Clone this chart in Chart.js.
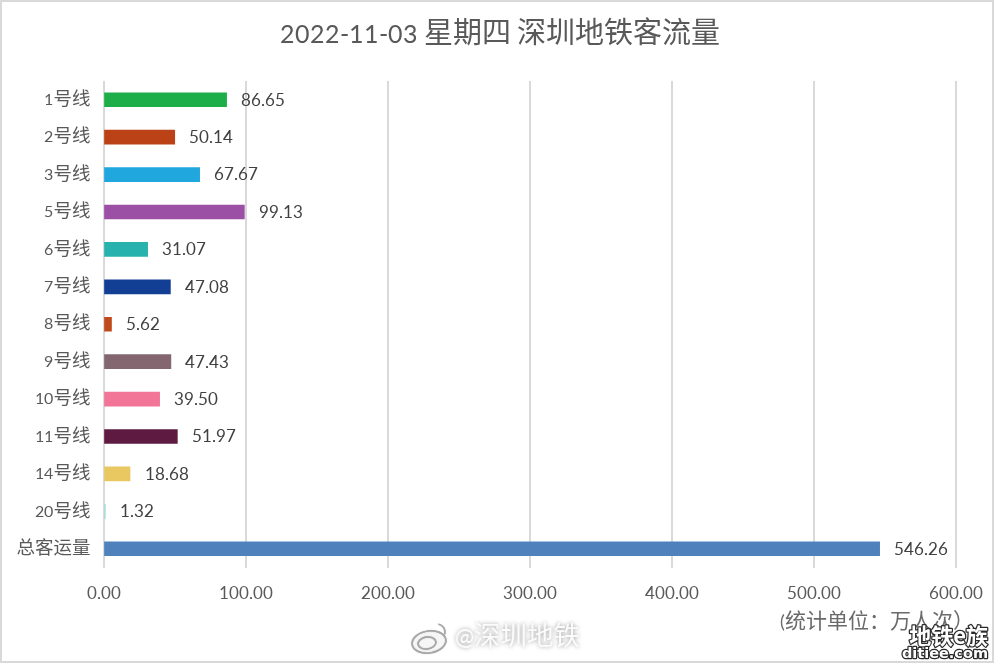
<!DOCTYPE html>
<html lang="zh">
<head>
<meta charset="utf-8">
<script src="https://cdn.jsdelivr.net/npm/chart.js@4"></script>
<style>
@font-face{font-family:"LatinMix";src:local("Lato"),local("Lato Regular");size-adjust:87%;unicode-range:U+0020-007E}
html,body{margin:0;padding:0;background:#fff}
canvas{display:block}
</style>
</head>
<body>
<canvas id="c" width="994" height="663"></canvas>
<script>
const chartTitle = "2022-11-03 星期四 深圳地铁客流量";
const categories = ["1号线","2号线","3号线","5号线","6号线","7号线","8号线","9号线","10号线","11号线","14号线","20号线","总客运量"];
const ridership = [86.65,50.14,67.67,99.13,31.07,47.08,5.62,47.43,39.50,51.97,18.68,1.32,546.26];
const barColors = ["#1dae4a","#bb4216","#1fa7de","#9b4fa5","#27b2ae","#123f94","#bf4a1c","#83666f","#f27497","#5e1a41","#e9c862","#a8dcd6","#4f81bd"];
const unitNote = "(统计单位：万人次）";
const weiboMark = "@深圳地铁";
const siteMarkCn = "地铁e族";
const siteMarkEn = "ditiee.com";

const FONT = '"LatinMix","Lato","Noto Sans CJK SC",sans-serif';
const TEXT = "#595959";

const decorations = {
  id: "decorations",
  beforeDraw(chart) {
    const { ctx, width, height } = chart;
    ctx.save();
    ctx.strokeStyle = "#d9d9d9";
    ctx.lineWidth = 2;
    ctx.strokeRect(1, 1, width - 2, height - 2);
    ctx.font = '29px ' + FONT;
    ctx.fillStyle = TEXT;
    ctx.textAlign = "center";
    ctx.textBaseline = "middle";
    ctx.fillText(chartTitle, 500, 34.5);
    ctx.restore();
  },
  afterDatasetsDraw(chart) {
    const { ctx } = chart;
    const meta = chart.getDatasetMeta(0);
    ctx.save();
    ctx.font = '19px ' + FONT;
    ctx.fillStyle = "#404040";
    ctx.textAlign = "left";
    ctx.textBaseline = "middle";
    meta.data.forEach((bar, i) => {
      ctx.fillText(ridership[i].toFixed(2), bar.x + 14.5, bar.y + 0.5);
    });
    ctx.restore();
  },
  afterDraw(chart) {
    const { ctx } = chart;
    ctx.save();
    // unit note
    ctx.font = '21px ' + FONT;
    ctx.fillStyle = "#6a6a6a";
    ctx.textAlign = "left";
    ctx.textBaseline = "middle";
    ctx.fillText(unitNote, 780, 622);
    // weibo watermark
    ctx.shadowColor = "rgba(0,0,0,0.4)";
    ctx.shadowBlur = 4;
    ctx.fillStyle = "#fbfbfb";
    ctx.font = '26.5px ' + FONT;
    ctx.fillText(weiboMark, 455, 638);
    ctx.lineWidth = 1.5;
    ctx.strokeStyle = "#a8a8a8";
    ctx.shadowBlur = 1;
    ctx.fillStyle = "rgba(255,255,255,0.9)";
    ctx.beginPath();
    ctx.ellipse(429, 642, 17, 11, -0.15, 0, Math.PI * 2);
    ctx.fill(); ctx.stroke();
    ctx.beginPath();
    ctx.ellipse(427, 643, 9, 6, -0.15, 0, Math.PI * 2);
    ctx.stroke();
    ctx.beginPath();
    ctx.arc(437, 632, 8, -1.4, 0.3);
    ctx.stroke();
    // site watermark
    ctx.shadowBlur = 0;
    ctx.lineJoin = "round";
    ctx.strokeStyle = "#2a2a2a";
    ctx.fillStyle = "#ffffff";
    ctx.lineWidth = 2.5;
    ctx.textAlign = "right";
    ctx.font = 'bold 22px "Noto Sans CJK SC",sans-serif';
    ctx.strokeText(siteMarkCn, 988, 636);
    ctx.fillText(siteMarkCn, 988, 636);
    ctx.font = 'bold 14.5px "DejaVu Sans",sans-serif';
    ctx.strokeText(siteMarkEn, 988, 654);
    ctx.fillText(siteMarkEn, 988, 654);
    ctx.restore();
  }
};

function draw() {
  new Chart(document.getElementById("c"), {
    type: "bar",
    data: {
      labels: categories,
      datasets: [{
        data: ridership,
        backgroundColor: barColors,
        barThickness: 14,
        borderWidth: 0
      }]
    },
    options: {
      indexAxis: "y",
      responsive: false,
      animation: false,
      devicePixelRatio: 1,
      layout: { padding: { left: 0, right: 38, top: 81, bottom: 0 } },
      plugins: {
        legend: { display: false },
        tooltip: { enabled: false },
        title: { display: false }
      },
      scales: {
        y: {
          afterFit(axis) { axis.width = 103.5; axis.paddingTop = 0; axis.paddingBottom = 0; },
          grid: { display: false },
          border: { display: false },
          ticks: { color: TEXT, font: { family: FONT, size: 18.5 }, padding: 5 }
        },
        x: {
          min: 0,
          max: 600,
          afterFit(axis) { axis.height = 95.5; axis.paddingLeft = 0; axis.paddingRight = 0; },
          grid: { color: "#d9d9d9", lineWidth: 2, drawTicks: false },
          border: { display: false },
          ticks: {
            stepSize: 100,
            color: TEXT,
            font: { family: FONT, size: 19 },
            padding: 15,
            maxRotation: 0,
            callback: v => v.toFixed(2)
          }
        }
      }
    },
    plugins: [decorations]
  });
}
document.fonts.load('20px "LatinMix"', "0").then(draw, draw);
</script>
</body>
</html>
